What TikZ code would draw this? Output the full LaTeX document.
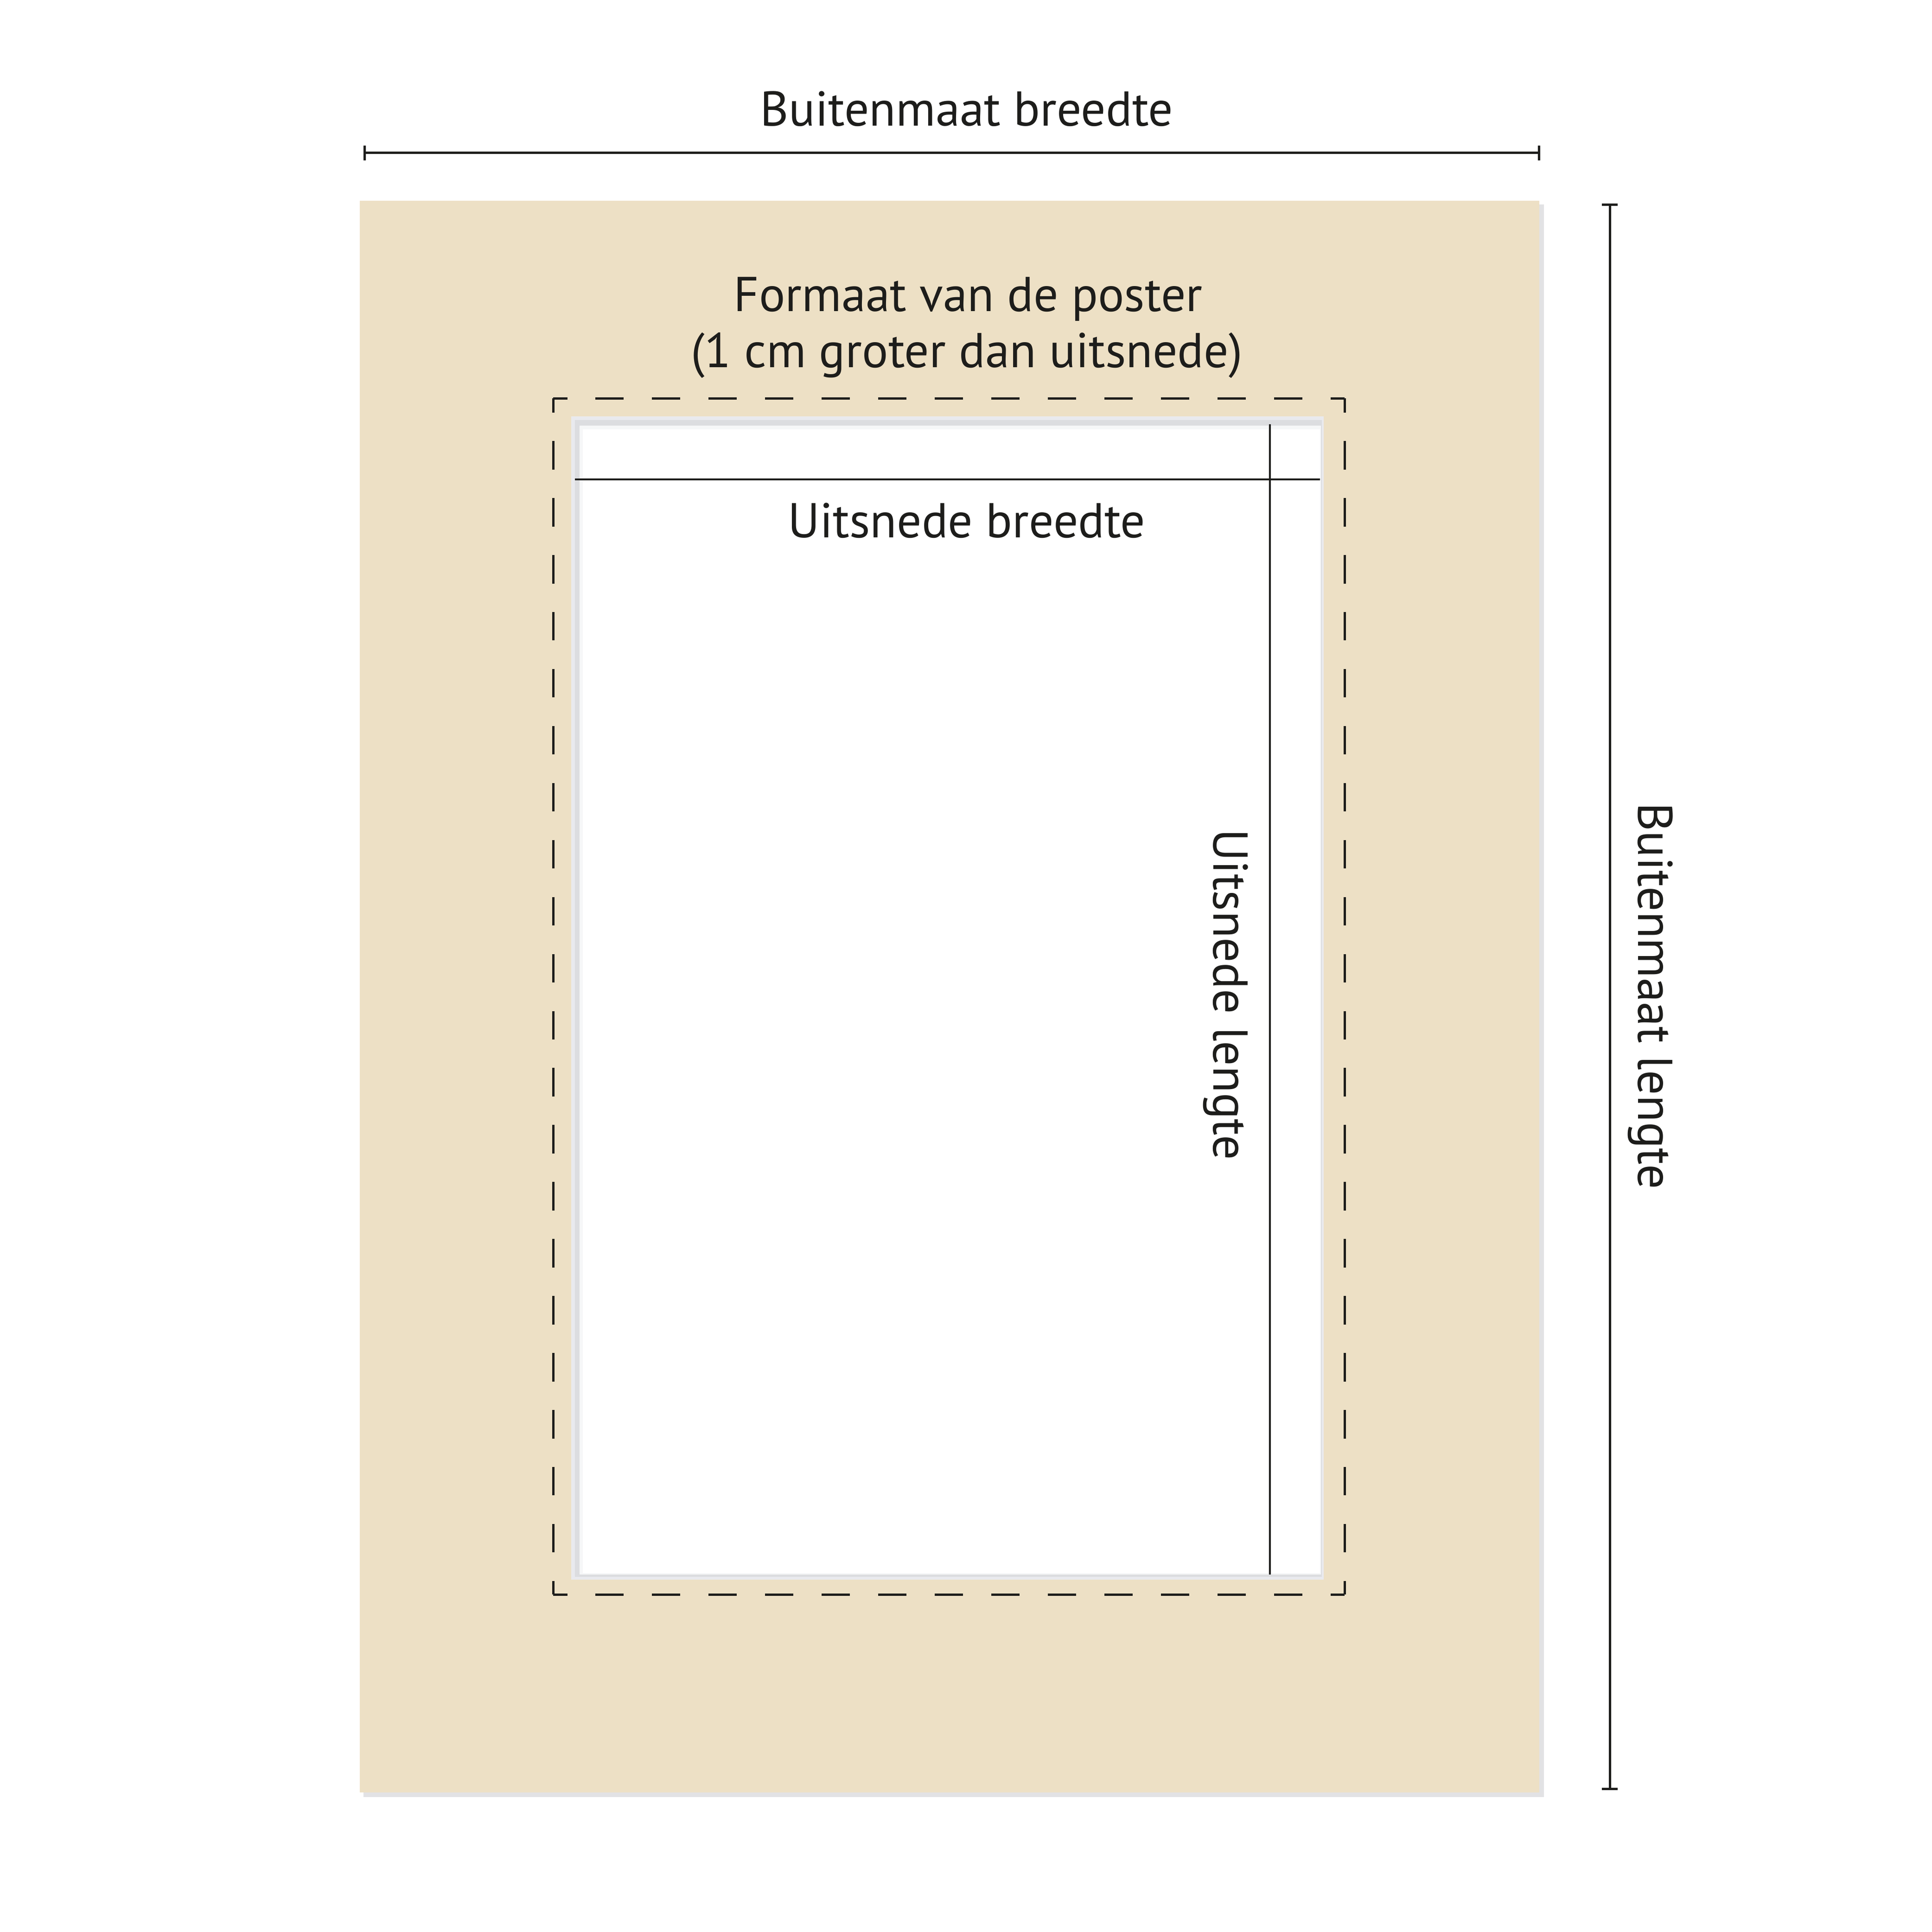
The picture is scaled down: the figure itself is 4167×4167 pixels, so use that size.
\documentclass[tikz,border=0pt]{standalone}
\usepackage{fontspec}
\setmainfont{PT Sans}
\definecolor{mat}{RGB}{237,224,197}
\definecolor{ink}{RGB}{29,29,27}
\definecolor{bevelA}{RGB}{233,234,238}
\definecolor{bevelB}{RGB}{220,221,224}
\definecolor{matshadow}{RGB}{226,226,228}
\begin{document}
\begin{tikzpicture}[x=0.01cm,y=-0.01cm,
  dimline/.style={draw=ink,line width=0.05cm},
  lbl/.style={text=ink,font=\fontsize{30}{36}\selectfont,inner sep=0pt,anchor=base},
  dashH/.style={draw=ink,line width=0.05cm,dash pattern=on 0.6095cm off 0.6095cm,dash phase=0.30475cm},
  dashV/.style={draw=ink,line width=0.05cm,dash pattern=on 0.6143cm off 0.6143cm,dash phase=0.30715cm}]
\useasboundingbox (0,0) rectangle (4167,4167);
\fill[white] (0,0) rectangle (4167,4167);
% mat board with slight shadow
\fill[matshadow] (784,441) rectangle (3330,3876);
\fill[mat] (776,433) rectangle (3320,3866);
% window opening with bevel
\fill[bevelA] (1232,898) rectangle (2855,3407);
\fill[bevelB] (1240,906) rectangle (2851,3401);
\fill[white!60!bevelA] (1250,918) rectangle (2849,3396);
\fill[white] (1257,926) rectangle (2847,3393);
% dashed poster outline
\coordinate (pTL) at (1193,859);
\coordinate (pTR) at (2900,859);
\coordinate (pBR) at (2900,3439);
\coordinate (pBL) at (1193,3439);
\draw[dashH] (pTL) -- (pTR);
\draw[dashH] (pBL) -- (pBR);
\draw[dashV] (pTL) -- (pBL);
\draw[dashV] (pTR) -- (pBR);
% outer width dimension
\coordinate (wL) at (786,330);
\coordinate (wR) at (3319,330);
\draw[dimline] (wL) -- (wR);
\draw[dimline] ([yshift=-0.16cm]wL) -- ([yshift=0.16cm]wL);
\draw[dimline] ([yshift=-0.16cm]wR) -- ([yshift=0.16cm]wR);
% outer height dimension
\coordinate (hT) at (3472,442);
\coordinate (hB) at (3472,3858);
\draw[dimline] (hT) -- (hB);
\draw[dimline] ([xshift=-0.17cm]hT) -- ([xshift=0.17cm]hT);
\draw[dimline] ([xshift=-0.17cm]hB) -- ([xshift=0.17cm]hB);
% cut-out dimension lines
\coordinate (cwL) at (1240,1034);
\coordinate (cwR) at (2847,1034);
\coordinate (chT) at (2739,915);
\coordinate (chB) at (2739,3396);
\draw[dimline,line width=0.045cm] (cwL) -- (cwR);
\draw[dimline,line width=0.045cm] (chT) -- (chB);
% labels
\node[lbl] (tOW) at (2085,272) {Buitenmaat breedte};
\node[lbl] (tP1) at (2088,672) {Formaat van de poster};
\node[lbl] (tP2) at (2085,792) {(1 cm groter dan uitsnede)};
\node[lbl] (tCW) at (2085,1159) {Uitsnede breedte};
\node[lbl,rotate=-90] (tCH) at (2617,2145) {Uitsnede lengte};
\node[lbl,rotate=-90] (tOH) at (3533,2148) {Buitenmaat lengte};
\end{tikzpicture}
\end{document}
